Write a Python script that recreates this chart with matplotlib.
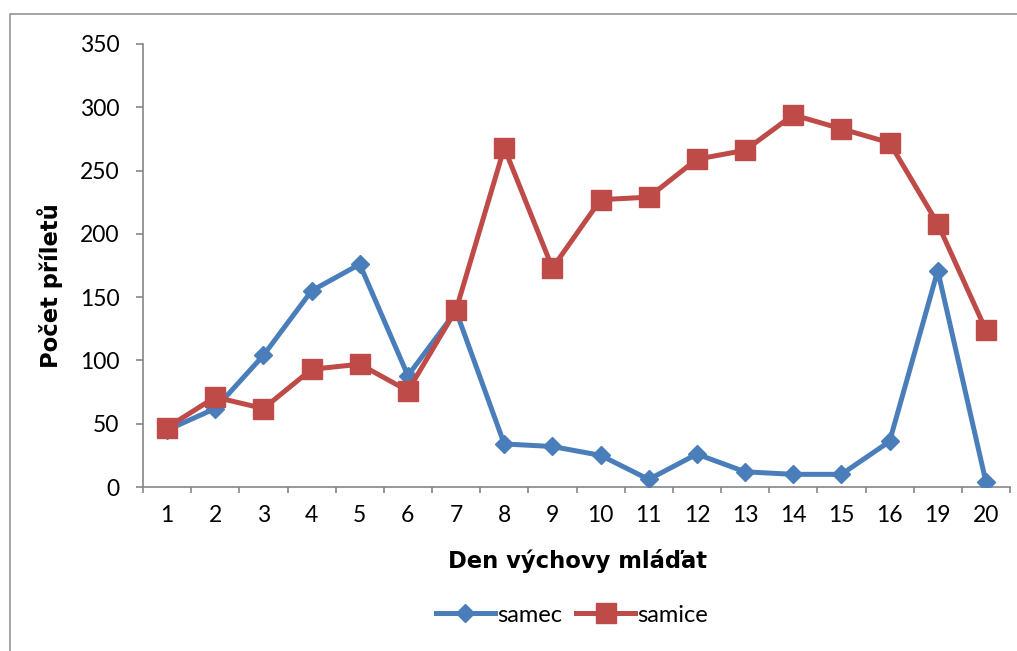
import matplotlib
matplotlib.use("Agg")
import matplotlib.pyplot as plt
from matplotlib.patches import Rectangle
from matplotlib.ticker import FixedLocator, NullFormatter, FixedFormatter

# Data: number of visits per day of chick rearing
days = ["1", "2", "3", "4", "5", "6", "7", "8", "9", "10",
        "11", "12", "13", "14", "15", "16", "19", "20"]
samec = [45, 62, 104, 155, 176, 88, 139, 34, 32, 25, 6, 26, 12, 10, 10, 36, 171, 4]
samice = [47, 71, 62, 93, 97, 76, 140, 268, 173, 227, 229, 259, 266, 294, 283, 272, 208, 124]
y_ticks = [0, 50, 100, 150, 200, 250, 300, 350]

W, H = 1017, 651
fig = plt.figure(figsize=(W / 100, H / 100), dpi=100)
fig.patch.set_facecolor("white")

# plot area in pixel coordinates
left, right, top, bottom = 143, 1010, 44, 487
ax = fig.add_axes([left / W, 1 - bottom / H, (right - left) / W, (bottom - top) / H])

x = list(range(len(days)))
blue = "#4A7EBB"
red = "#BE4B48"
ax.plot(x, samec, color=blue, lw=3.6, marker="D", ms=9.5, mec=blue, mfc=blue,
        label="samec", zorder=3, solid_joinstyle="round")
ax.plot(x, samice, color=red, lw=3.6, marker="s", ms=13.8, mec=red, mfc=red,
        label="samice", zorder=4, solid_joinstyle="round")

ax.set_xlim(-0.5, len(days) - 0.5)
ax.set_ylim(0, 350)

grey = "#868686"
for s in ("top", "right"):
    ax.spines[s].set_visible(False)
for s in ("left", "bottom"):
    ax.spines[s].set_color(grey)
    ax.spines[s].set_linewidth(1.2)

tick_font = dict(family="Lato", size=16.5)

# category boundaries carry tick marks, labels sit at category centres
ax.xaxis.set_major_locator(FixedLocator([i - 0.5 for i in range(len(days) + 1)]))
ax.xaxis.set_major_formatter(NullFormatter())
ax.xaxis.set_minor_locator(FixedLocator(x))
ax.xaxis.set_minor_formatter(FixedFormatter(days))
ax.tick_params(axis="x", which="major", direction="out", length=4.5, width=1.2, color=grey)
ax.tick_params(axis="x", which="minor", length=0, pad=13)
for lbl in ax.get_xticklabels(minor=True):
    lbl.set_fontfamily(tick_font["family"])
    lbl.set_fontsize(tick_font["size"])

ax.set_yticks(y_ticks)
ax.tick_params(axis="y", direction="out", length=5, width=1.2, color=grey, pad=12)
for lbl in ax.get_yticklabels():
    lbl.set_fontfamily(tick_font["family"])
    lbl.set_fontsize(tick_font["size"])

# axis titles
fig.text(577 / W, 1 - 561 / H, "Den výchovy mláďat", ha="center", va="center",
         family="DejaVu Sans", weight="bold", size=16.3)
fig.text(50 / W, 1 - 286 / H, "Počet příletů", ha="center", va="center", rotation=90,
         family="DejaVu Sans", weight="bold", size=16.3)

# legend below the chart
leg = fig.legend(loc="center", bbox_to_anchor=(572 / W, 1 - 615 / H), ncol=2, frameon=False,
                 handlelength=2.5, handletextpad=0.1, columnspacing=0.6,
                 prop=dict(family="Lato", size=17))

# outer chart border
fig.add_artist(Rectangle((9.5 / W, -0.2), 1.2, 1 - 14 / H + 0.2, transform=fig.transFigure,
                         fill=False, ec="#8C8C8C", lw=1.1))

fig.savefig("out.png", dpi=100, facecolor="white")
